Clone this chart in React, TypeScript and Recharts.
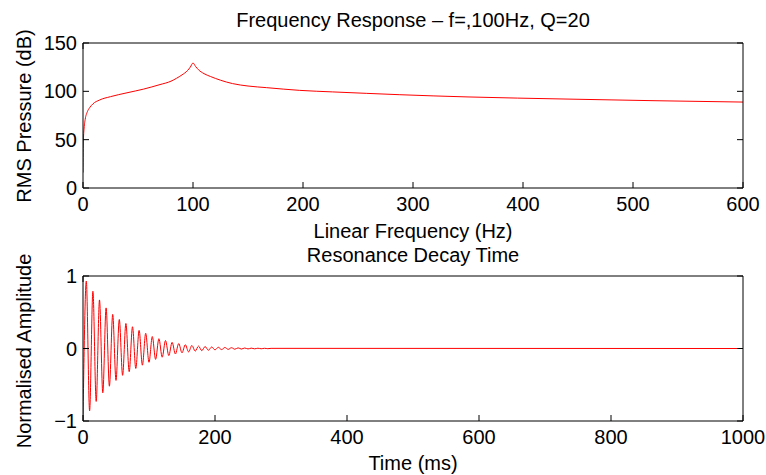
import React from "react";
import { LineChart, Line, XAxis, YAxis } from "recharts";

// top panel: frequency response (Hz, dB)
const freqHz = [0, 0.4, 1, 2, 4, 6, 9, 15, 25, 40, 55, 70, 80, 85, 90, 95, 97.5, 100, 102.5, 105, 110, 116, 125, 136, 150, 167, 197, 227, 258, 288, 350, 440, 520, 600];
const pressureDb = [16, 50, 62, 71, 79, 83, 87, 91, 94.5, 98.5, 102.3, 107, 110.5, 113.5, 117, 121.5, 125, 129.3, 125.5, 122.3, 118.3, 115.3, 111.5, 108, 105.5, 103.8, 101, 99.4, 97.9, 96.5, 94.2, 92, 90.3, 88.9];
const freqTicks = [0, 100, 200, 300, 400, 500, 600];
const dbTicks = [0, 50, 100, 150];

// bottom panel: decay, one value per peak / trough (ms, normalised)
const decayMs = [
  0, 5, 10, 15, 20, 25, 30, 35, 40, 45, 50, 55, 60, 65, 70, 75, 80, 85, 90, 95,
  100, 105, 110, 115, 120, 125, 130, 135, 140, 145, 150, 155, 160, 165, 170, 175, 180, 185, 190, 195,
  200, 205, 210, 215, 220, 225, 230, 235, 240, 245, 250, 255, 260, 265, 270, 275, 280, 285, 1000,
];
const decayAmp = [
  -1, 0.93, -0.86, 0.79, -0.73, 0.67, -0.61, 0.56, -0.52, 0.47, -0.44, 0.4, -0.37, 0.345, -0.32, 0.3, -0.275, 0.25, -0.23, 0.21,
  -0.19, 0.165, -0.15, 0.135, -0.12, 0.11, -0.097, 0.085, -0.076, 0.068, -0.06, 0.052, -0.047, 0.042, -0.037, 0.033, -0.03, 0.027, -0.024, 0.021,
  -0.019, 0.017, -0.015, 0.014, -0.012, 0.011, -0.01, 0.009, -0.008, 0.007, -0.006, 0.005, -0.0045, 0.004, -0.0035, 0.003, -0.0025, 0.002, 0,
];
const timeTicks = [0, 200, 400, 600, 800, 1000];
const ampTicks = [-1, 0, 1];

const FONT = "'Liberation Sans', Arial, Helvetica, sans-serif";
const tickStyle = { fontSize: 20, fill: "#000", fontFamily: FONT };
const blank = () => "";
const minus = (v: number) => (v < 0 ? "\u2212" + Math.abs(v) : String(v));

const topData = freqHz.map((f, i) => ({ x: f, y: pressureDb[i] }));
const bottomData = decayMs.map((t, i) => ({ x: t, y: decayAmp[i] }));

function Panel({ data, xDomain, xTicks, yDomain, yTicks }: any) {
  return (
    <LineChart width={766} height={228} data={data} margin={{ top: 0, right: 0, bottom: 0, left: 0 }}>
      <XAxis
        xAxisId="b" dataKey="x" type="number" domain={xDomain} ticks={xTicks} interval={0}
        orientation="bottom" height={40} tickSize={-6} tickMargin={15} tick={tickStyle}
        stroke="#000" allowDataOverflow
      />
      <XAxis
        xAxisId="t" type="number" domain={xDomain} ticks={xTicks} interval={0}
        orientation="top" height={43} tickSize={-6} tickFormatter={blank} stroke="#000" allowDataOverflow
      />
      <YAxis
        yAxisId="l" type="number" domain={yDomain} ticks={yTicks} interval={0}
        width={83} tickSize={-6} tickMargin={12} tick={tickStyle} tickFormatter={minus}
        stroke="#000" allowDataOverflow
      />
      <YAxis
        yAxisId="r" orientation="right" type="number" domain={yDomain} ticks={yTicks} interval={0}
        width={23} tickSize={-6} tickFormatter={blank} stroke="#000" allowDataOverflow
      />
      <Line
        xAxisId="b" yAxisId="l" dataKey="y" type="monotone" stroke="#ff0000"
        strokeWidth={1} dot={false} isAnimationActive={false}
      />
    </LineChart>
  );
}

function Caption({ x, y, text, rotate }: { x: number; y: number; text: string; rotate?: boolean }) {
  return (
    <div
      style={{
        position: "absolute", left: x, top: y, whiteSpace: "nowrap",
        transform: `translate(-50%, -50%)${rotate ? " rotate(-90deg)" : ""}`,
        fontFamily: FONT, fontSize: 20, color: "#000", lineHeight: 1,
      }}
    >
      {text}
    </div>
  );
}

export default function App() {
  return (
    <div style={{ position: "fixed", left: 0, top: 0, width: 766, height: 475, background: "#fff" }}>
      <div style={{ position: "absolute", left: 0, top: 0 }}>
        <Panel data={topData} xDomain={[0, 600]} xTicks={freqTicks} yDomain={[0, 150]} yTicks={dbTicks} />
      </div>
      <div style={{ position: "absolute", left: 0, top: 233 }}>
        <Panel data={bottomData} xDomain={[0, 1000]} xTicks={timeTicks} yDomain={[-1, 1]} yTicks={ampTicks} />
      </div>
      <Caption x={413} y={20} text="Frequency Response – f=,100Hz, Q=20" />
      <Caption x={413} y={231} text="Linear Frequency (Hz)" />
      <Caption x={413} y={255} text="Resonance Decay Time" />
      <Caption x={413} y={463} text="Time (ms)" />
      <Caption x={24} y={116} text="RMS Pressure (dB)" rotate />
      <Caption x={24} y={351} text="Normalised Amplitude" rotate />
    </div>
  );
}
